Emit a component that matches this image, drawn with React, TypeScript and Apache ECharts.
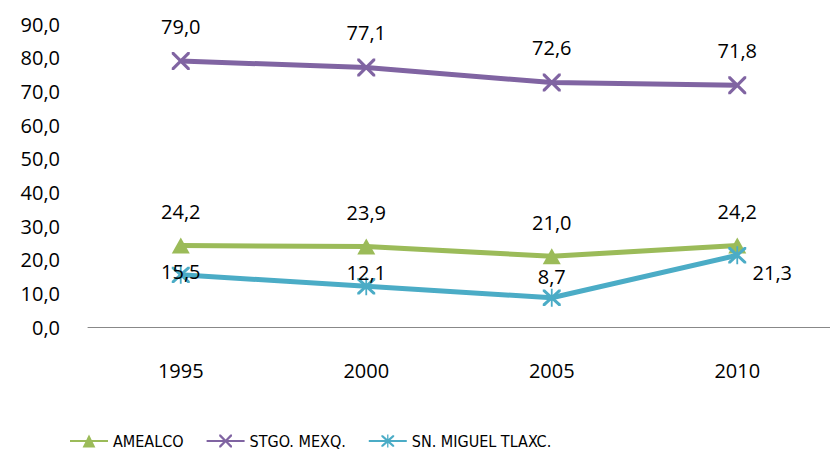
import React, { useEffect, useRef } from "react";
import * as echarts from "echarts";

const years = ["1995", "2000", "2005", "2010"];
const amealco = [24.2, 23.9, 21.0, 24.2];
const stgo = [79.0, 77.1, 72.6, 71.8];
const snMiguel = [15.5, 12.1, 8.7, 21.3];
const snLabelOffsets: [number, number][] = [[0, -3], [0, -14], [0, -21], [35, 17]];
const seriesNames = ["AMEALCO", "STGO. MEXQ.", "SN. MIGUEL TLAXC."];

const X_PATH = "path://M0,0 L2.5,0 L10,7.5 L17.5,0 L20,0 L20,2.5 L12.5,10 L20,17.5 L20,20 L17.5,20 L10,12.5 L2.5,20 L0,20 L0,17.5 L7.5,10 L0,2.5 Z";
const STAR_PATH = "path://M0,0 L2.5,0 L10,7.5 L17.5,0 L20,0 L20,2.5 L12.5,10 L20,17.5 L20,20 L17.5,20 L10,12.5 L2.5,20 L0,20 L0,17.5 L7.5,10 L0,2.5 Z M9,-1 L11,-1 L11,21 L9,21 Z";

const fmt = (v: number) => v.toFixed(1).replace(".", ",");
const FONT = "'Open Sans', sans-serif";

export default function App() {
  const ref = useRef<HTMLDivElement>(null);
  useEffect(() => {
    if (!ref.current) return;
    const chart = echarts.init(ref.current, null, { renderer: "svg" });
    const labelBase = {
      show: true,
      position: "inside",
      color: "#000",
      fontSize: 20,
      fontFamily: FONT,
      formatter: (p: any) => fmt(p.value),
    };
    chart.setOption({
      animation: false,
      grid: { left: 88, width: 748, top: 24, height: 303, containLabel: false },
      legend: {
        top: 428,
        left: 64,
        itemWidth: 38,
        itemHeight: 16,
        itemGap: 22,
        textStyle: { fontSize: 16, fontFamily: "'DejaVu Sans Condensed', 'Noto Sans', sans-serif", color: "#000" },
        data: seriesNames,
      },
      xAxis: {
        type: "category",
        data: years,
        boundaryGap: true,
        axisLine: { lineStyle: { color: "#888", width: 1 } },
        axisTick: { show: false },
        axisLabel: { fontSize: 20, fontFamily: FONT, color: "#000", margin: 33 },
      },
      yAxis: {
        type: "value",
        min: 0,
        max: 90,
        interval: 10,
        axisLine: { show: false },
        axisTick: { show: false },
        splitLine: { show: false },
        axisLabel: { fontSize: 20, fontFamily: FONT, color: "#000", margin: 28, formatter: (v: number) => fmt(v) },
      },
      series: [
        {
          name: seriesNames[0],
          type: "line",
          data: amealco,
          color: "#9BBB59",
          lineStyle: { width: 5, color: "#9BBB59" },
          symbol: "triangle",
          symbolSize: [18, 16],
          label: { ...labelBase, offset: [0, -34] },
          z: 3,
        },
        {
          name: seriesNames[1],
          type: "line",
          data: stgo,
          color: "#8064A2",
          lineStyle: { width: 5, color: "#8064A2" },
          symbol: X_PATH,
          symbolSize: 18,
          label: { ...labelBase, offset: [0, -35] },
          z: 2,
        },
        {
          name: seriesNames[2],
          type: "line",
          data: snMiguel.map((v, i) => ({ value: v, label: { offset: snLabelOffsets[i] } })),
          color: "#4BACC6",
          lineStyle: { width: 5, color: "#4BACC6" },
          symbol: STAR_PATH,
          symbolSize: 18,
          label: { ...labelBase },
          z: 4,
        },
      ],
    });
    return () => chart.dispose();
  }, []);
  return <div ref={ref} style={{ width: 830, height: 451, position: "absolute", left: 0, top: 0 }} />;
}
